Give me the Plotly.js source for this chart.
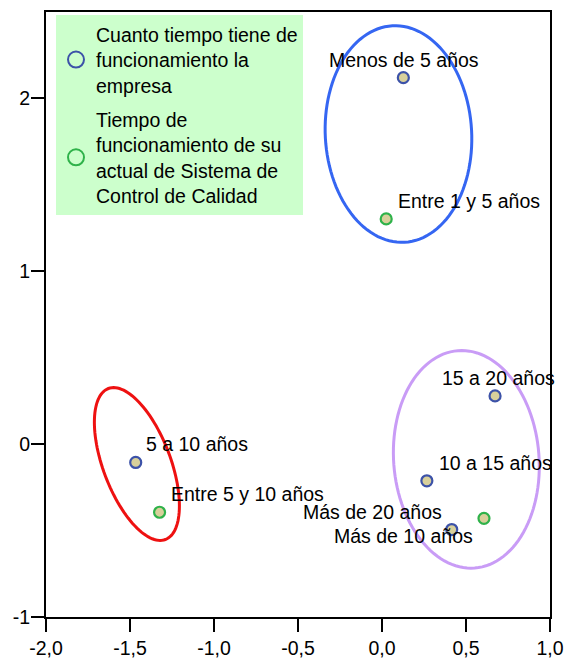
<!DOCTYPE html>
<html>
<head>
<meta charset="utf-8">
<script src="https://cdn.plot.ly/plotly-3.0.1.min.js"></script>
<style>
  html, body { margin: 0; padding: 0; background: #ffffff; }
  #chart { width: 567px; height: 662px; }
</style>
</head>
<body>
<div id="chart"></div>
<script>
// ---- Data ----
const empresaLabels = ["Menos de 5 años", "5 a 10 años", "10 a 15 años", "15 a 20 años", "Más de 20 años"];
const empresaX = [0.127, -1.466, 0.267, 0.673, 0.415];
const empresaY = [2.120, -0.106, -0.212, 0.279, -0.494];

const sistemaLabels = ["Entre 1 y 5 años", "Entre 5 y 10 años", "Más de 10 años"];
const sistemaX = [0.025, -1.324, 0.607];
const sistemaY = [1.303, -0.394, -0.429];

const seriesNames = [
  "Cuanto tiempo tiene de<br>funcionamiento la<br>empresa",
  "Tiempo de<br>funcionamiento de su<br>actual de Sistema de<br>Control de Calidad"
];

const xTickVals = [-2.0, -1.5, -1.0, -0.5, 0.0, 0.5, 1.0];
const xTickText = ["-2,0", "-1,5", "-1,0", "-0,5", "0,0", "0,5", "1,0"];
const yTickVals = [-1, 0, 1, 2];
const yTickText = ["-1", "0", "1", "2"];

// ---- Styles ----
const FONT = "Arial, Liberation Sans, Helvetica, sans-serif";
const FS = 19.5;
const fillTan = "#d8d09b";
const blueEdge = "#3c52a8";
const greenEdge = "#2fb24a";

// label placement (pixel offsets from the point)
const labelStyle = {
  "Menos de 5 años":   {xanchor: "center", xshift: 1,  yshift: 18},
  "5 a 10 años":       {xanchor: "left",   xshift: 8,  yshift: 18},
  "10 a 15 años":      {xanchor: "left",   xshift: 10, yshift: 18},
  "15 a 20 años":      {xanchor: "center", xshift: 3,  yshift: 18},
  "Más de 20 años":    {xanchor: "right",  xshift: -8, yshift: 18},
  "Entre 1 y 5 años":  {xanchor: "left",   xshift: 10, yshift: 18},
  "Entre 5 y 10 años": {xanchor: "left",   xshift: 9,  yshift: 18},
  "Más de 10 años":    {xanchor: "right",  xshift: -9, yshift: -18}
};

// group ellipses: center in data units, semi-axes in px, tilt (deg, top leaning left)
const ellipses = [
  {cx: 0.098,  cy: 1.794,  a: 108.4, b: 73.2, tilt: 3.2,  color: "#3566f2"},
  {cx: 0.502,  cy: -0.088, a: 109.0, b: 72.7, tilt: 4.4,  color: "#c99cf6"},
  {cx: -1.459, cy: -0.115, a: 80.7,  b: 33.7, tilt: 20.7, color: "#ee1111"}
];

const W = 567, H = 662;
const M = {l: 46, r: 17, t: 12, b: 45};
const xRange = [-2, 1], yRange = [-1, 2.5];
const sx = (W - M.l - M.r) / (xRange[1] - xRange[0]);
const sy = (H - M.t - M.b) / (yRange[1] - yRange[0]);

function ellipsePath(e) {
  const th = e.tilt * Math.PI / 180;
  let d = "";
  const n = 120;
  for (let i = 0; i <= n; i++) {
    const t = 2 * Math.PI * i / n;
    const dxp = -e.a * Math.cos(t) * Math.sin(th) + e.b * Math.sin(t) * Math.cos(th);
    const dyp =  e.a * Math.cos(t) * Math.cos(th) + e.b * Math.sin(t) * Math.sin(th);
    const x = e.cx + dxp / sx;
    const y = e.cy + dyp / sy;
    d += (i === 0 ? "M" : "L") + x.toFixed(5) + "," + y.toFixed(5);
  }
  return d + "Z";
}

const shapes = ellipses.map(e => ({
  type: "path", xref: "x", yref: "y", path: ellipsePath(e),
  line: {color: e.color, width: 3}, fillcolor: "rgba(0,0,0,0)", layer: "above"
}));

const traces = [
  // legend-only entries (open circles)
  {x: [null], y: [null], type: "scatter", mode: "markers", name: seriesNames[0],
   legendgroup: "a", showlegend: true, hoverinfo: "skip",
   marker: {symbol: "circle-open", size: 16, color: blueEdge, line: {width: 2, color: blueEdge}}},
  {x: [null], y: [null], type: "scatter", mode: "markers", name: seriesNames[1],
   legendgroup: "b", showlegend: true, hoverinfo: "skip",
   marker: {symbol: "circle-open", size: 16, color: greenEdge, line: {width: 2, color: greenEdge}}},
  // data
  {x: empresaX, y: empresaY, text: empresaLabels, type: "scatter", mode: "markers",
   name: seriesNames[0], legendgroup: "a", showlegend: false, cliponaxis: false,
   marker: {symbol: "circle", size: 11, color: fillTan, line: {width: 2.2, color: blueEdge}}},
  {x: sistemaX, y: sistemaY, text: sistemaLabels, type: "scatter", mode: "markers",
   name: seriesNames[1], legendgroup: "b", showlegend: false, cliponaxis: false,
   marker: {symbol: "circle", size: 11, color: fillTan, line: {width: 2.2, color: greenEdge}}}
];

const annotations = [];
function addLabels(labels, xs, ys) {
  labels.forEach((lab, i) => {
    const s = labelStyle[lab];
    annotations.push({
      x: xs[i], y: ys[i], xref: "x", yref: "y", text: lab, showarrow: false,
      xanchor: s.xanchor, yanchor: "middle", xshift: s.xshift, yshift: s.yshift,
      font: {family: FONT, size: FS, color: "#000000"}
    });
  });
}
addLabels(empresaLabels, empresaX, empresaY);
addLabels(sistemaLabels, sistemaX, sistemaY);

const axisCommon = {
  showgrid: false, zeroline: false, showline: true, mirror: true,
  linecolor: "#000000", linewidth: 2, ticks: "outside", ticklen: 13,
  tickwidth: 2, tickcolor: "#000000", fixedrange: true,
  tickfont: {family: FONT, size: FS, color: "#000000"}
};

const layout = {
  width: W, height: H, margin: M,
  paper_bgcolor: "#ffffff", plot_bgcolor: "#ffffff",
  font: {family: FONT, size: FS, color: "#000000"},
  showlegend: true,
  legend: {
    x: 10 / (W - M.l - M.r), xanchor: "left", y: 0.995, yanchor: "top",
    bgcolor: "#ccffcc", borderwidth: 0,
    font: {family: FONT, size: FS, color: "#000000"},
    traceorder: "grouped", tracegroupgap: 6, itemclick: false, itemdoubleclick: false
  },
  xaxis: Object.assign({}, axisCommon, {range: xRange, tickmode: "array", tickvals: xTickVals, ticktext: xTickText}),
  yaxis: Object.assign({}, axisCommon, {range: yRange, tickmode: "array", tickvals: yTickVals, ticktext: yTickText, ticklabelstandoff: -3}),
  shapes: shapes,
  annotations: annotations
};

Plotly.newPlot("chart", traces, layout, {staticPlot: true, displayModeBar: false});
</script>
</body>
</html>
